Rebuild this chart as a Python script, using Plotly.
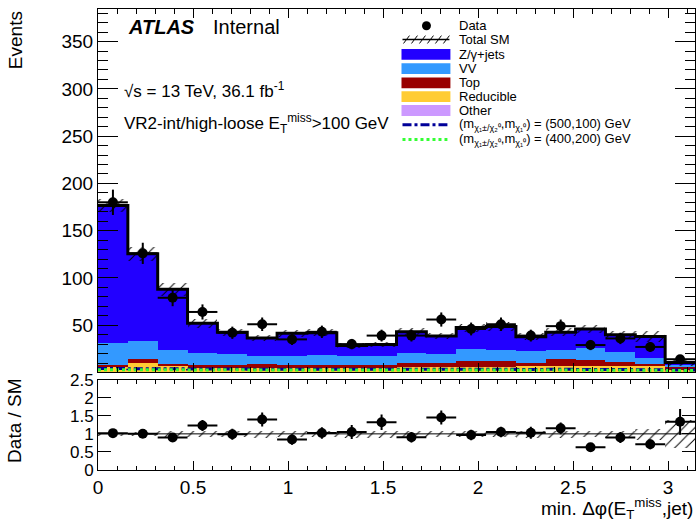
import numpy as np
import plotly.graph_objects as go

# ---- binning: 20 equal bins of min. delta-phi in [0, pi] ----
bin_edges = np.linspace(0.0, np.pi, 21)
bin_centers = 0.5 * (bin_edges[:-1] + bin_edges[1:])
bin_width = bin_edges[1] - bin_edges[0]

# ---- background predictions (events per bin) ----
other     = [0.8, 0.9, 0.7, 0.6, 0.6, 0.5, 0.6, 0.5, 0.5, 0.6, 0.6, 0.5, 0.6, 0.7, 0.6, 0.7, 0.6, 0.6, 0.5, 0.4]
reducible = [4.7, 9.1, 5.9, 4.9, 4.4, 4.5, 4.4, 4.5, 4.3, 4.2, 4.9, 5.0, 5.4, 5.3, 6.0, 5.9, 6.0, 6.0, 6.1, 3.1]
top       = [2.8, 4.6, 2.4, 2.1, 2.6, 4.0, 3.3, 3.3, 3.5, 2.8, 4.5, 4.5, 5.8, 6.0, 2.9, 7.4, 6.9, 4.9, 2.2, 2.0]
diboson   = [22.7, 19.0, 14.9, 12.8, 11.8, 8.7, 8.7, 10.4, 9.4, 10.1, 11.0, 9.6, 12.8, 12.0, 13.5, 10.0, 12.9, 9.8, 6.2, 2.3]
zjets     = [145.5, 91.9, 64.1, 31.6, 23.1, 18.8, 24.5, 23.3, 10.8, 11.8, 22.0, 18.9, 22.9, 24.5, 14.8, 18.5, 19.6, 18.7, 23.0, 2.7]

# relative total uncertainty on the SM prediction
sm_rel_unc = [0.04, 0.06, 0.08, 0.09, 0.09, 0.10, 0.09, 0.09, 0.10, 0.10, 0.09, 0.09, 0.09, 0.09, 0.10, 0.10, 0.09, 0.10, 0.15, 0.38]

# ---- observed data ----
data = [180, 126, 79, 64, 42, 51, 35, 43, 30, 39, 39, 56, 46, 51, 39, 49, 29, 36, 27, 14]

# ---- signal benchmarks ----
sig_500_100 = [4.2, 4.0, 3.8, 3.6, 3.6, 3.5, 3.4, 3.5, 3.3, 3.4, 3.3, 3.4, 3.5, 3.3, 3.2, 3.3, 3.2, 3.1, 3.0, 2.6]
sig_400_200 = [3.0, 2.9, 2.8, 2.7, 2.8, 2.6, 2.7, 2.6, 2.5, 2.6, 2.5, 2.6, 2.5, 2.5, 2.4, 2.5, 2.4, 2.3, 2.3, 2.0]

COL_Z = "#2200ff"
COL_VV = "#3399ff"
COL_TOP = "#990000"
COL_RED = "#ffcc33"
COL_OTHER = "#cc99ff"
COL_S1 = "#000099"
COL_S2 = "#33ff33"
FONT = "Liberation Sans, Arial, sans-serif"

total_sm = np.sum([other, reducible, top, diboson, zjets], axis=0)
sm_unc = total_sm * np.array(sm_rel_unc)
data_arr = np.array(data, dtype=float)
data_err = np.sqrt(data_arr)
ratio = data_arr / total_sm
ratio_err = data_err / total_sm
rel = np.array(sm_rel_unc)

def step_y(vals):
    v = list(vals)
    return v + [v[-1]]

fig = go.Figure()

# stacked backgrounds (bottom to top)
for name, vals, col in [("Other", other, COL_OTHER), ("Reducible", reducible, COL_RED),
                        ("Top", top, COL_TOP), ("VV", diboson, COL_VV),
                        ("Z/γ+jets", zjets, COL_Z)]:
    fig.add_trace(go.Bar(x=bin_centers, y=vals, width=bin_width, name=name,
                         marker=dict(color=col, line=dict(width=0)),
                         xaxis="x", yaxis="y", showlegend=False, hoverinfo="skip"))

hatch = dict(shape="/", fgcolor="black", bgcolor="rgba(0,0,0,0)", size=8,
             solidity=0.12, fillmode="replace")

# SM uncertainty band (main panel)
fig.add_trace(go.Bar(x=bin_centers, y=2 * sm_unc, base=total_sm - sm_unc, width=bin_width,
                     marker=dict(color="rgba(0,0,0,0)", line=dict(width=0), pattern=hatch),
                     xaxis="x", yaxis="y", showlegend=False, hoverinfo="skip"))

# SM uncertainty band (ratio panel)
fig.add_trace(go.Bar(x=bin_centers, y=2 * rel, base=1 - rel, width=bin_width,
                     marker=dict(color="rgba(0,0,0,0)", line=dict(width=0), pattern=hatch),
                     xaxis="x2", yaxis="y2", showlegend=False, hoverinfo="skip"))

# signal step lines
fig.add_trace(go.Scatter(x=bin_edges, y=step_y(sig_500_100), mode="lines", line_shape="hv",
                         line=dict(color=COL_S1, width=3, dash="dashdot"),
                         xaxis="x", yaxis="y", showlegend=False, hoverinfo="skip"))
fig.add_trace(go.Scatter(x=bin_edges, y=step_y(sig_400_200), mode="lines", line_shape="hv",
                         line=dict(color=COL_S2, width=3, dash="dot"),
                         xaxis="x", yaxis="y", showlegend=False, hoverinfo="skip"))

# total SM outline
fig.add_trace(go.Scatter(x=bin_edges, y=step_y(total_sm), mode="lines", line_shape="hv",
                         line=dict(color="black", width=3),
                         xaxis="x", yaxis="y", showlegend=False, hoverinfo="skip"))

# data points
fig.add_trace(go.Scatter(x=bin_centers, y=data_arr, mode="markers",
                         marker=dict(color="black", size=10),
                         error_y=dict(type="data", array=data_err, color="black", thickness=2, width=0),
                         error_x=dict(type="constant", value=bin_width / 2, color="black", thickness=2, width=0),
                         xaxis="x", yaxis="y", showlegend=False, hoverinfo="skip"))

# data / SM ratio
fig.add_trace(go.Scatter(x=bin_centers, y=ratio, mode="markers",
                         marker=dict(color="black", size=10),
                         error_y=dict(type="data", array=ratio_err, color="black", thickness=2, width=0),
                         error_x=dict(type="constant", value=bin_width / 2, color="black", thickness=2, width=0),
                         xaxis="x2", yaxis="y2", showlegend=False, hoverinfo="skip"))

# ---- layout geometry ----
W, H = 696, 529
L, R, T, B = 98, 0, 2, 59

def xp(px):
    return (px - L) / (W - L - R)

def yp(py):
    return 1 - (py - T) / (H - T - B)

axis_common = dict(showline=True, linecolor="black", linewidth=1, mirror="allticks",
                   ticks="inside", tickcolor="black", tickwidth=1, showgrid=False,
                   zeroline=False, tickfont=dict(family=FONT, size=19, color="black"))

fig.update_layout(
    width=W, height=H, margin=dict(l=L, r=R, t=T, b=B),
    paper_bgcolor="white", plot_bgcolor="white",
    barmode="stack", bargap=0, showlegend=False,
    font=dict(family=FONT, color="black"),
    xaxis=dict(axis_common, domain=[0, 1], anchor="y", range=[0, np.pi], matches="x2",
               showticklabels=False, tick0=0, dtick=0.5, ticklen=9,
               minor=dict(ticks="inside", ticklen=4.5, dtick=0.1, tickcolor="black")),
    yaxis=dict(axis_common, domain=[yp(370.5), 1], anchor="x", range=[0.5, 384.5],
               tick0=0, dtick=50, ticklen=20,
               minor=dict(ticks="inside", ticklen=10, dtick=10, tickcolor="black")),
    xaxis2=dict(axis_common, domain=[0, 1], anchor="y2", range=[0, np.pi],
                tick0=0, dtick=0.5, ticklen=9,
                minor=dict(ticks="inside", ticklen=4.5, dtick=0.1, tickcolor="black")),
    yaxis2=dict(axis_common, domain=[0, yp(378.3)], anchor="x2", range=[0, 2.5],
                tick0=0, dtick=0.5, ticklen=13,
                tickfont=dict(family=FONT, size=17, color="black")),
)

# ratio reference line at 1
fig.add_shape(type="line", xref="x2", yref="y2", x0=0, x1=np.pi, y0=1, y1=1,
              line=dict(color="black", width=1))

ann = []

def text(px, py, s, size, xanchor="left", yanchor="middle", angle=0):
    ann.append(dict(x=xp(px), y=yp(py), xref="paper", yref="paper", text=s,
                    showarrow=False, xanchor=xanchor, yanchor=yanchor, textangle=angle,
                    font=dict(family=FONT, size=size, color="black")))

# axis titles
text(15, 2, "Events", 19, xanchor="center", yanchor="top", angle=-90)
text(15, 420, "Data / SM", 19, xanchor="center", yanchor="middle", angle=-90)
text(696, 509, "min. Δφ(E<sub>T</sub><sup>miss</sup>,jet)", 19, xanchor="right")

# labels
text(126, 20, "<b><i>ATLAS</i></b>", 20)
text(211, 20, "Internal", 20)
text(122, 84, "√s = 13 TeV, 36.1 fb<sup>-1</sup>", 17)
text(122, 118, "VR2-int/high-loose E<sub>T</sub><sup>miss</sup>>100 GeV", 17)

# ---- legend ----
LX0, LX1, TX = 402, 451, 458
rows = {"data": 19, "sm": 33, "z": 48, "vv": 62.5, "top": 77, "red": 91,
        "other": 105, "s1": 119.5, "s2": 134.5}

fig.add_shape(type="circle", xref="paper", yref="paper",
              x0=xp(422.5), x1=xp(431.5), y0=yp(23.5), y1=yp(14.5),
              fillcolor="black", line=dict(color="black", width=0))
text(TX, rows["data"], "Data", 13)

fig.add_shape(type="line", xref="paper", yref="paper", x0=xp(LX0 + 1), x1=xp(LX1 - 1),
              y0=yp(rows["sm"]), y1=yp(rows["sm"]), line=dict(color="black", width=1.5))
for hx in range(404, 448, 8):
    fig.add_shape(type="line", xref="paper", yref="paper", x0=xp(hx), x1=xp(hx + 6),
                  y0=yp(rows["sm"] + 4), y1=yp(rows["sm"] - 4), line=dict(color="black", width=1))
text(TX, rows["sm"], "Total SM", 13)

for key, col, label in [("z", COL_Z, "Z/γ+jets"), ("vv", COL_VV, "VV"), ("top", COL_TOP, "Top"),
                        ("red", COL_RED, "Reducible"), ("other", COL_OTHER, "Other")]:
    fig.add_shape(type="rect", xref="paper", yref="paper", x0=xp(LX0), x1=xp(LX1),
                  y0=yp(rows[key] + 5.5), y1=yp(rows[key] - 5.5),
                  fillcolor=col, line=dict(width=0))
    text(TX, rows[key], label, 13)

fig.add_shape(type="line", xref="paper", yref="paper", x0=xp(403), x1=xp(448),
              y0=yp(rows["s1"]), y1=yp(rows["s1"]), line=dict(color=COL_S1, width=3, dash="dashdot"))
text(TX, rows["s1"], "(m<sub>χ₁±/χ₂⁰</sub>,m<sub>χ₁⁰</sub>) = (500,100) GeV", 13)
fig.add_shape(type="line", xref="paper", yref="paper", x0=xp(403), x1=xp(448),
              y0=yp(rows["s2"]), y1=yp(rows["s2"]), line=dict(color=COL_S2, width=3, dash="dot"))
text(TX, rows["s2"], "(m<sub>χ₁±/χ₂⁰</sub>,m<sub>χ₁⁰</sub>) = (400,200) GeV", 13)

fig.update_layout(annotations=ann)

fig.write_html("out.html")
